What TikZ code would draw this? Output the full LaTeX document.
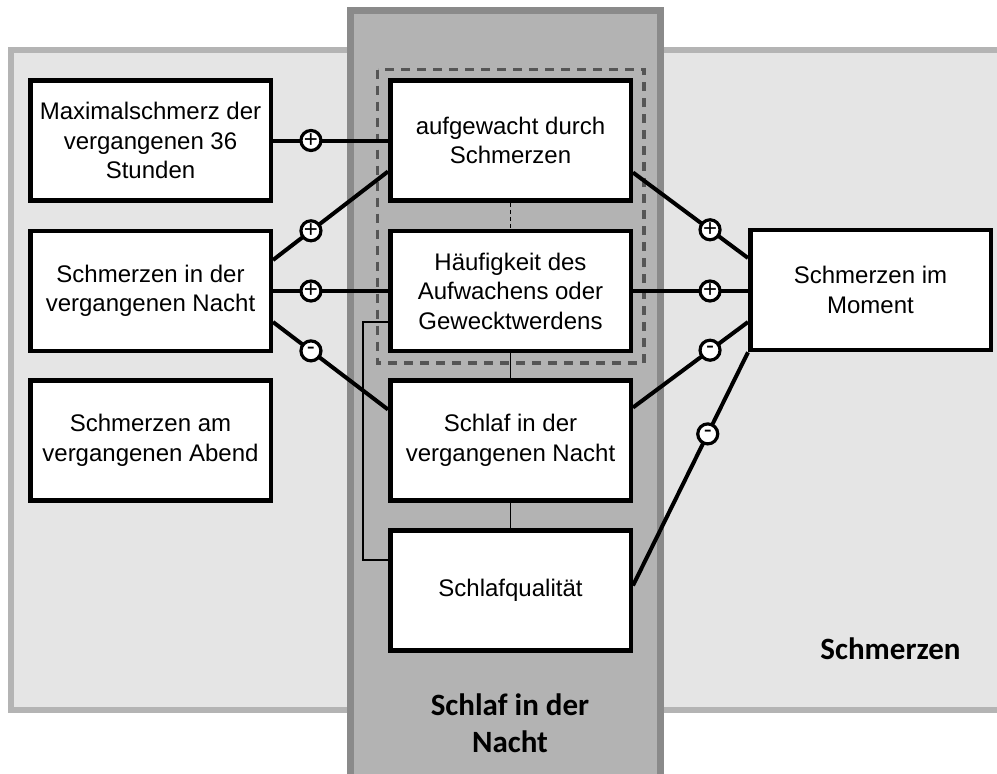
\documentclass[tikz,border=0pt]{standalone}
\usepackage{fontspec}
\setmainfont{Liberation Sans}
\newfontfamily\lblfont{Carlito}
\usetikzlibrary{calc}
\definecolor{lightbg}{HTML}{E5E5E5}
\definecolor{lightbd}{HTML}{B4B4B4}
\definecolor{colbg}{HTML}{B3B3B3}
\definecolor{colbd}{HTML}{8A8A8A}
\definecolor{dashc}{HTML}{555555}
\begin{document}
\begin{tikzpicture}[x=1pt,y=-1pt,
  box/.style={draw=black, line width=4.5pt, fill=white, minimum width=240.5pt, minimum height=120pt, inner sep=2pt, align=center, font=\fontsize{24}{29.5}\selectfont},
  sign/.style={circle, draw=black, line width=3.2pt, fill=white, minimum size=20pt, inner sep=0pt, font=\fontsize{24}{24}\selectfont},
  link/.style={line width=4pt},
  thinlink/.style={line width=1.8pt},
  grouplbl/.style={font=\lblfont\bfseries\fontsize{31}{37}\selectfont, align=center}
]
\useasboundingbox (0,0) rectangle (997,774);
% background regions
\draw[line width=5.5pt, draw=lightbd, fill=lightbg] (11,50) rectangle (1010,710);
\draw[line width=6.5pt, draw=colbd, fill=colbg] (350.5,10.5) rectangle (660.5,790);
\draw[line width=3.2pt, draw=dashc, dash pattern=on 9pt off 7pt] (377.5,69.5) rectangle (644,363);

% boxes
\node[box] (max) at (150.5,140.5) {Maximalschmerz der\\vergangenen 36\\Stunden};
\node[box] (nacht) at (150.5,291) {Schmerzen in der\\vergangenen Nacht};
\node[box] (abend) at (150.5,440.5) {Schmerzen am\\vergangenen Abend};
\node[box] (auf) at (510.5,140.5) {aufgewacht durch\\Schmerzen};
\node[box] (hau) at (510.5,291) {Häufigkeit des\\Aufwachens oder\\Geweckt\-werdens};
\node[box] (sch) at (510.5,440.5) {Schlaf in der\\vergangenen Nacht};
\node[box] (sq) at (510.5,590.5) {Schlafqualität};
\node[box] (mom) at (870.5,290) {Schmerzen im\\Moment};

% thin connectors
\draw[thinlink, dash pattern=on 4pt off 3pt] (auf.south) -- (hau.north);
\draw[thinlink] (hau.south) -- (sch.north);
\draw[thinlink] (sch.south) -- (sq.north);
\draw[thinlink] ([yshift=-31pt]hau.west) -- ++(-25.25pt,0) |- ([yshift=30.5pt]sq.west);

% signed links
\draw[link] (max.east) -- node[sign,pos=0.33]{+} (auf.west);
\draw[link] ([yshift=31pt]nacht.east) -- node[sign,pos=0.33]{+} ([yshift=-31pt]auf.west);
\draw[link] (nacht.east) -- node[sign,pos=0.33]{+} (hau.west);
\draw[link] ([yshift=-31pt]nacht.east) -- node[sign,pos=0.33]{-} ([yshift=31pt]sch.west);
\draw[link] ([yshift=-32pt]auf.east) -- node[sign,pos=0.67]{+} ([yshift=32pt]mom.west);
\draw[link] (hau.east) -- node[sign,pos=0.67]{+} (hau.east -| mom.west);
\draw[link] ([yshift=33pt]sch.east) -- node[sign,pos=0.67]{-} ([yshift=-32pt]mom.west);
\draw[link] ([yshift=5pt]sq.east) -- node[sign,pos=0.65]{-} (mom.south west);

% group labels
\node[grouplbl, anchor=base] (lblschmerz) at (890.5,659) {Schmerzen};
\node[grouplbl] (lblschlaf) at (510,723) {Schlaf in der\\Nacht};
\end{tikzpicture}
\end{document}
